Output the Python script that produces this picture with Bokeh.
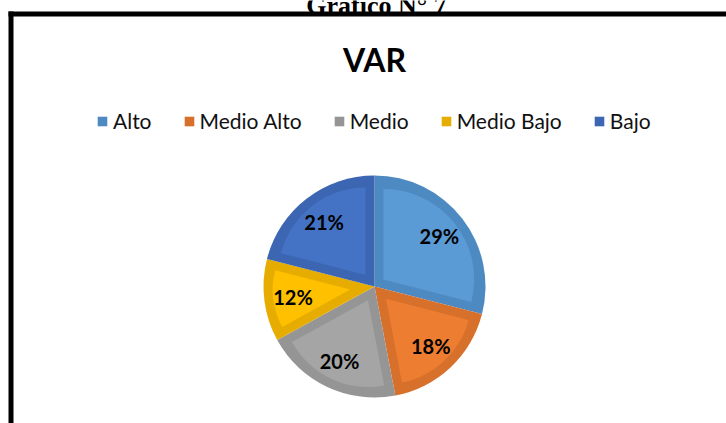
import numpy as np
from bokeh.plotting import figure
from bokeh.models import ColumnDataSource, Legend, LegendItem
from bokeh.core.properties import value
from bokeh.embed import file_html
from bokeh.resources import INLINE

# ---- data ----
categories = ["Alto", "Medio Alto", "Medio", "Medio Bajo", "Bajo"]
values = [29, 18, 20, 12, 21]
fill_colors = ["#5B9BD5", "#ED7D31", "#A5A5A5", "#FFC000", "#4472C4"]
band_colors = ["#4E8AC2", "#D7702B", "#959595", "#E6AD00", "#3C66B2"]
chart_title = "VAR"
page_caption = "Gráfico N° 7"

W, H = 726, 423
p = figure(width=W, height=H, x_range=(0, W), y_range=(0, H),
           x_axis_type=None, y_axis_type=None, toolbar_location=None,
           output_backend="svg", min_border=0)
p.grid.visible = False
p.outline_line_color = None
p.background_fill_color = "white"
p.border_fill_color = "white"

# page caption (cut off at top, as in the source page) and frame
p.text(x=[376], y=[H - 5], text=[page_caption], text_font=value("Liberation Serif"),
       text_font_style="bold", text_font_size="26px", text_align="center",
       text_baseline="alphabetic", text_color="black")
p.segment(x0=[8, 10.5], y0=[H - 13.5, H - 11], x1=[W, 10.5], y1=[H - 13.5, 0],
          line_color="black", line_width=5)

# chart title
p.text(x=[374], y=[H - 59], text=[chart_title], text_font=value("Lato"),
       text_font_style="bold", text_font_size="32px", text_align="center",
       text_baseline="middle", text_color="black")

# pie geometry
cx, cy, r, d = 374.0, H - 286.0, 111.0, 9.0
vals = np.array(values, dtype=float)
frac = vals / vals.sum()
cum = np.concatenate([[0], np.cumsum(frac)]) * 2 * np.pi
start = np.pi / 2 - cum[:-1]
end = np.pi / 2 - cum[1:]
mid = (start + end) / 2
half = (start - end) / 2
off = d / np.sin(half)
src = ColumnDataSource(dict(
    x=[cx] * len(values), y=[cy] * len(values), start=start, end=end,
    band=band_colors, fill=fill_colors, cat=categories,
    ix=cx + off * np.cos(mid), iy=cy + off * np.sin(mid), ir=r - d - off,
    lx=cx + 0.74 * r * np.cos(mid), ly=cy + 0.74 * r * np.sin(mid),
    lab=[f"{v}%" for v in values],
))
outer = p.wedge(x="x", y="y", radius=r, start_angle="start", end_angle="end",
                direction="clock", fill_color="band", line_color=None, source=src)
p.wedge(x="ix", y="iy", radius="ir", start_angle="start", end_angle="end",
        direction="clock", fill_color="fill", line_color=None, source=src)
p.text(x="lx", y="ly", text="lab", source=src, text_font=value("Lato"),
       text_font_style="bold", text_font_size="20px", text_align="center",
       text_baseline="middle", text_color="black")

legend = Legend(items=[LegendItem(label=c, renderers=[outer], index=i)
                       for i, c in enumerate(categories)],
                orientation="horizontal", location=(96, 290),
                glyph_width=12, glyph_height=12, label_standoff=5, spacing=31,
                padding=0, margin=0, border_line_color=None,
                background_fill_alpha=0, label_text_font="Lato",
                label_text_font_size="21px", label_text_color="#111111")
p.add_layout(legend)

open("out.html", "w").write(file_html(p, INLINE))
